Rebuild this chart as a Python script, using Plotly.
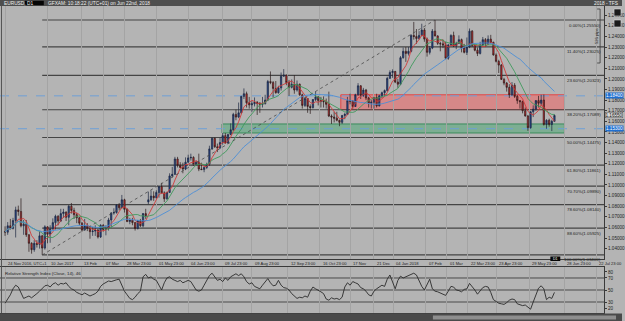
import numpy as np
import pandas as pd
import plotly.graph_objects as go

# ---------------- data ----------------
dates = [
    "2016-11-24", "2016-11-28", "2016-11-30", "2016-12-02", "2016-12-05", "2016-12-07", "2016-12-08", "2016-12-12", "2016-12-14", "2016-12-16",
    "2016-12-20", "2016-12-22", "2016-12-27", "2016-12-29", "2017-01-03", "2017-01-05", "2017-01-09", "2017-01-11", "2017-01-13", "2017-01-17",
    "2017-01-19", "2017-01-23", "2017-01-25", "2017-01-27", "2017-01-31", "2017-02-02", "2017-02-06", "2017-02-08", "2017-02-10", "2017-02-14",
    "2017-02-16", "2017-02-20", "2017-02-22", "2017-02-24", "2017-02-28", "2017-03-02", "2017-03-03", "2017-03-07", "2017-03-09", "2017-03-13",
    "2017-03-15", "2017-03-17", "2017-03-21", "2017-03-23", "2017-03-27", "2017-03-29", "2017-03-31", "2017-04-04", "2017-04-06", "2017-04-10",
    "2017-04-12", "2017-04-14", "2017-04-18", "2017-04-20", "2017-04-24", "2017-04-26", "2017-04-28", "2017-05-02", "2017-05-04", "2017-05-08",
    "2017-05-10", "2017-05-12", "2017-05-16", "2017-05-18", "2017-05-22", "2017-05-24", "2017-05-26", "2017-05-30", "2017-06-01", "2017-06-05",
    "2017-06-07", "2017-06-09", "2017-06-13", "2017-06-15", "2017-06-19", "2017-06-21", "2017-06-23", "2017-06-27", "2017-06-29", "2017-07-03",
    "2017-07-05", "2017-07-07", "2017-07-11", "2017-07-13", "2017-07-17", "2017-07-19", "2017-07-21", "2017-07-25", "2017-07-27", "2017-07-31",
    "2017-08-02", "2017-08-04", "2017-08-08", "2017-08-10", "2017-08-14", "2017-08-16", "2017-08-18", "2017-08-22", "2017-08-24", "2017-08-28",
    "2017-08-29", "2017-08-31", "2017-09-01", "2017-09-05", "2017-09-07", "2017-09-08", "2017-09-12", "2017-09-14", "2017-09-18", "2017-09-20",
    "2017-09-22", "2017-09-25", "2017-09-27", "2017-09-29", "2017-10-03", "2017-10-06", "2017-10-10", "2017-10-12", "2017-10-16", "2017-10-18",
    "2017-10-20", "2017-10-24", "2017-10-26", "2017-10-30", "2017-11-01", "2017-11-03", "2017-11-07", "2017-11-09", "2017-11-13", "2017-11-15",
    "2017-11-17", "2017-11-21", "2017-11-23", "2017-11-27", "2017-11-29", "2017-12-01", "2017-12-05", "2017-12-07", "2017-12-11", "2017-12-13",
    "2017-12-15", "2017-12-19", "2017-12-21", "2017-12-27", "2017-12-29", "2018-01-02", "2018-01-04", "2018-01-08", "2018-01-10", "2018-01-12",
    "2018-01-16", "2018-01-18", "2018-01-22", "2018-01-24", "2018-01-25", "2018-01-29", "2018-01-31", "2018-02-02", "2018-02-06", "2018-02-08",
    "2018-02-12", "2018-02-14", "2018-02-16", "2018-02-20", "2018-02-22", "2018-02-26", "2018-02-28", "2018-03-02", "2018-03-06", "2018-03-08",
    "2018-03-12", "2018-03-14", "2018-03-16", "2018-03-20", "2018-03-22", "2018-03-26", "2018-03-28", "2018-04-03", "2018-04-05", "2018-04-09",
    "2018-04-11", "2018-04-13", "2018-04-17", "2018-04-19", "2018-04-23", "2018-04-25", "2018-04-27", "2018-05-01", "2018-05-03", "2018-05-07",
    "2018-05-09", "2018-05-11", "2018-05-15", "2018-05-17", "2018-05-21", "2018-05-23", "2018-05-25", "2018-05-29", "2018-05-31", "2018-06-04",
    "2018-06-06", "2018-06-08", "2018-06-12", "2018-06-14", "2018-06-18", "2018-06-20", "2018-06-21", "2018-06-22",
]

opens = [
    1.0560, 1.0555, 1.0615, 1.0590, 1.0665, 1.0765, 1.0750, 1.0615, 1.0630, 1.0530,
    1.0450, 1.0390, 1.0450, 1.0440, 1.0520, 1.0405, 1.0605, 1.0535, 1.0585, 1.0645,
    1.0705, 1.0660, 1.0730, 1.0745, 1.0695, 1.0800, 1.0760, 1.0720, 1.0690, 1.0640,
    1.0575, 1.0615, 1.0590, 1.0560, 1.0565, 1.0575, 1.0510, 1.0620, 1.0580, 1.0590,
    1.0670, 1.0735, 1.0740, 1.0810, 1.0785, 1.0860, 1.0770, 1.0655, 1.0670, 1.0645,
    1.0590, 1.0665, 1.0615, 1.0730, 1.0840, 1.0860, 1.0895, 1.0880, 1.0930, 1.0985,
    1.0925, 1.0870, 1.0930, 1.1085, 1.1100, 1.1245, 1.1185, 1.1165, 1.1150, 1.1215,
    1.1255, 1.1260, 1.1195, 1.1215, 1.1150, 1.1145, 1.1165, 1.1195, 1.1340, 1.1440,
    1.1360, 1.1350, 1.1400, 1.1465, 1.1395, 1.1475, 1.1520, 1.1665, 1.1640, 1.1680,
    1.1835, 1.1860, 1.1775, 1.1755, 1.1765, 1.1780, 1.1770, 1.1760, 1.1765, 1.1800,
    1.1975, 1.1965, 1.1910, 1.1870, 1.1915, 1.2025, 1.2035, 1.1965, 1.1920, 1.1950,
    1.1895, 1.1950, 1.1850, 1.1750, 1.1815, 1.1740, 1.1730, 1.1805, 1.1830, 1.1795,
    1.1790, 1.1785, 1.1760, 1.1650, 1.1640, 1.1630, 1.1610, 1.1590, 1.1655, 1.1665,
    1.1795, 1.1790, 1.1740, 1.1850, 1.1935, 1.1845, 1.1895, 1.1820, 1.1770, 1.1780,
    1.1825, 1.1745, 1.1840, 1.1870, 1.1890, 1.2005, 1.2060, 1.2070, 1.1970, 1.1950,
    1.2200, 1.2260, 1.2240, 1.2260, 1.2410, 1.2400, 1.2380, 1.2410, 1.2460, 1.2375,
    1.2250, 1.2290, 1.2450, 1.2405, 1.2335, 1.2330, 1.2320, 1.2195, 1.2320, 1.2410,
    1.2310, 1.2335, 1.2370, 1.2290, 1.2250, 1.2300, 1.2450, 1.2315, 1.2270, 1.2240,
    1.2320, 1.2370, 1.2330, 1.2375, 1.2345, 1.2225, 1.2165, 1.2130, 1.1995, 1.1960,
    1.1920, 1.1850, 1.1940, 1.1835, 1.1795, 1.1785, 1.1700, 1.1650, 1.1540, 1.1690,
    1.1715, 1.1795, 1.1770, 1.1800, 1.1570, 1.1610, 1.1570, 1.1600,
]

highs = [
    1.0610, 1.0650, 1.0680, 1.0690, 1.0795, 1.0805, 1.0874, 1.0670, 1.0670, 1.0535,
    1.0460, 1.0480, 1.0480, 1.0560, 1.0530, 1.0620, 1.0610, 1.0620, 1.0685, 1.0720,
    1.0715, 1.0775, 1.0775, 1.0750, 1.0810, 1.0830, 1.0785, 1.0740, 1.0700, 1.0650,
    1.0680, 1.0640, 1.0600, 1.0600, 1.0620, 1.0590, 1.0630, 1.0630, 1.0620, 1.0690,
    1.0745, 1.0780, 1.0820, 1.0830, 1.0906, 1.0870, 1.0780, 1.0690, 1.0690, 1.0650,
    1.0670, 1.0680, 1.0735, 1.0775, 1.0937, 1.0950, 1.0940, 1.0950, 1.0990, 1.1020,
    1.0940, 1.0935, 1.1110, 1.1170, 1.1265, 1.1265, 1.1215, 1.1210, 1.1260, 1.1285,
    1.1295, 1.1270, 1.1230, 1.1295, 1.1210, 1.1170, 1.1210, 1.1370, 1.1445, 1.1445,
    1.1390, 1.1445, 1.1490, 1.1490, 1.1480, 1.1580, 1.1680, 1.1710, 1.1777, 1.1840,
    1.1910, 1.1880, 1.1830, 1.1790, 1.1825, 1.1790, 1.1780, 1.1830, 1.1850, 1.1990,
    1.2070, 1.1980, 1.1980, 1.1935, 1.2060, 1.2092, 1.2040, 1.1990, 1.1995, 1.2035,
    1.1985, 1.1955, 1.1860, 1.1830, 1.1820, 1.1760, 1.1810, 1.1880, 1.1840, 1.1830,
    1.1835, 1.1815, 1.1880, 1.1665, 1.1690, 1.1690, 1.1615, 1.1660, 1.1680, 1.1830,
    1.1860, 1.1800, 1.1860, 1.1960, 1.1940, 1.1915, 1.1905, 1.1830, 1.1800, 1.1830,
    1.1860, 1.1850, 1.1880, 1.1900, 1.2020, 1.2080, 1.2090, 1.2075, 1.2000, 1.2215,
    1.2295, 1.2300, 1.2300, 1.2420, 1.2537, 1.2470, 1.2450, 1.2520, 1.2480, 1.2390,
    1.2310, 1.2470, 1.2555, 1.2410, 1.2350, 1.2370, 1.2350, 1.2330, 1.2420, 1.2445,
    1.2350, 1.2410, 1.2380, 1.2330, 1.2390, 1.2475, 1.2460, 1.2330, 1.2295, 1.2350,
    1.2395, 1.2385, 1.2410, 1.2415, 1.2350, 1.2240, 1.2180, 1.2140, 1.2010, 1.1970,
    1.1950, 1.1970, 1.1960, 1.1850, 1.1800, 1.1795, 1.1730, 1.1660, 1.1695, 1.1750,
    1.1800, 1.1840, 1.1850, 1.1852, 1.1620, 1.1625, 1.1615, 1.1665,
]

lows = [
    1.0520, 1.0530, 1.0580, 1.0580, 1.0505, 1.0710, 1.0600, 1.0530, 1.0510, 1.0370,
    1.0352, 1.0370, 1.0410, 1.0400, 1.0340, 1.0390, 1.0450, 1.0455, 1.0580, 1.0580,
    1.0620, 1.0650, 1.0690, 1.0660, 1.0620, 1.0730, 1.0680, 1.0640, 1.0620, 1.0560,
    1.0570, 1.0565, 1.0493, 1.0520, 1.0520, 1.0495, 1.0500, 1.0560, 1.0525, 1.0570,
    1.0600, 1.0720, 1.0730, 1.0760, 1.0780, 1.0740, 1.0650, 1.0630, 1.0620, 1.0570,
    1.0580, 1.0605, 1.0600, 1.0680, 1.0820, 1.0850, 1.0850, 1.0870, 1.0880, 1.0920,
    1.0840, 1.0860, 1.0925, 1.1070, 1.1095, 1.1165, 1.1160, 1.1110, 1.1140, 1.1210,
    1.1230, 1.1180, 1.1180, 1.1130, 1.1140, 1.1120, 1.1150, 1.1180, 1.1330, 1.1350,
    1.1310, 1.1340, 1.1380, 1.1390, 1.1390, 1.1470, 1.1510, 1.1610, 1.1630, 1.1670,
    1.1810, 1.1730, 1.1720, 1.1690, 1.1740, 1.1660, 1.1680, 1.1730, 1.1760, 1.1790,
    1.1950, 1.1825, 1.1860, 1.1860, 1.1890, 1.2020, 1.1940, 1.1840, 1.1910, 1.1860,
    1.1880, 1.1840, 1.1720, 1.1735, 1.1680, 1.1670, 1.1720, 1.1790, 1.1750, 1.1730,
    1.1730, 1.1720, 1.1640, 1.1575, 1.1590, 1.1600, 1.1554, 1.1575, 1.1620, 1.1660,
    1.1760, 1.1720, 1.1735, 1.1840, 1.1810, 1.1830, 1.1800, 1.1730, 1.1720, 1.1720,
    1.1730, 1.1740, 1.1820, 1.1840, 1.1880, 1.2000, 1.2010, 1.1960, 1.1915, 1.1940,
    1.2190, 1.2160, 1.2220, 1.2250, 1.2370, 1.2330, 1.2370, 1.2400, 1.2350, 1.2210,
    1.2230, 1.2280, 1.2400, 1.2320, 1.2260, 1.2290, 1.2185, 1.2180, 1.2310, 1.2300,
    1.2280, 1.2330, 1.2250, 1.2240, 1.2225, 1.2290, 1.2300, 1.2260, 1.2215, 1.2230,
    1.2310, 1.2300, 1.2320, 1.2330, 1.2220, 1.2155, 1.2055, 1.1990, 1.1940, 1.1880,
    1.1820, 1.1840, 1.1820, 1.1765, 1.1720, 1.1675, 1.1645, 1.1510, 1.1530, 1.1640,
    1.1700, 1.1730, 1.1750, 1.1560, 1.1530, 1.1550, 1.1508, 1.1595,
]

closes = [
    1.0555, 1.0615, 1.0590, 1.0665, 1.0765, 1.0750, 1.0615, 1.0630, 1.0530, 1.0450,
    1.0390, 1.0450, 1.0440, 1.0520, 1.0405, 1.0605, 1.0535, 1.0585, 1.0645, 1.0705,
    1.0660, 1.0730, 1.0745, 1.0695, 1.0800, 1.0760, 1.0720, 1.0690, 1.0640, 1.0575,
    1.0615, 1.0590, 1.0560, 1.0565, 1.0575, 1.0510, 1.0620, 1.0580, 1.0590, 1.0670,
    1.0735, 1.0740, 1.0810, 1.0785, 1.0860, 1.0770, 1.0655, 1.0670, 1.0645, 1.0590,
    1.0665, 1.0615, 1.0730, 1.0710, 1.0860, 1.0895, 1.0880, 1.0930, 1.0985, 1.0925,
    1.0870, 1.0930, 1.1085, 1.1100, 1.1245, 1.1185, 1.1165, 1.1150, 1.1215, 1.1255,
    1.1260, 1.1195, 1.1215, 1.1150, 1.1145, 1.1165, 1.1195, 1.1340, 1.1440, 1.1360,
    1.1350, 1.1400, 1.1465, 1.1395, 1.1475, 1.1520, 1.1665, 1.1640, 1.1680, 1.1835,
    1.1860, 1.1775, 1.1755, 1.1765, 1.1780, 1.1770, 1.1760, 1.1765, 1.1800, 1.1975,
    1.1965, 1.1910, 1.1870, 1.1915, 1.2025, 1.2035, 1.1965, 1.1920, 1.1950, 1.1895,
    1.1950, 1.1850, 1.1750, 1.1815, 1.1740, 1.1730, 1.1805, 1.1830, 1.1795, 1.1790,
    1.1785, 1.1760, 1.1650, 1.1640, 1.1630, 1.1610, 1.1590, 1.1655, 1.1665, 1.1795,
    1.1790, 1.1740, 1.1850, 1.1935, 1.1845, 1.1895, 1.1820, 1.1770, 1.1780, 1.1825,
    1.1745, 1.1840, 1.1870, 1.1890, 1.2005, 1.2060, 1.2070, 1.1970, 1.1950, 1.2200,
    1.2260, 1.2240, 1.2260, 1.2410, 1.2400, 1.2380, 1.2410, 1.2460, 1.2375, 1.2250,
    1.2290, 1.2450, 1.2405, 1.2335, 1.2330, 1.2320, 1.2195, 1.2320, 1.2410, 1.2310,
    1.2335, 1.2370, 1.2290, 1.2250, 1.2300, 1.2450, 1.2315, 1.2270, 1.2240, 1.2320,
    1.2370, 1.2330, 1.2375, 1.2345, 1.2225, 1.2165, 1.2130, 1.1995, 1.1960, 1.1920,
    1.1850, 1.1940, 1.1835, 1.1795, 1.1785, 1.1700, 1.1650, 1.1540, 1.1690, 1.1715,
    1.1795, 1.1770, 1.1800, 1.1570, 1.1610, 1.1570, 1.1600, 1.1655,
]

rsi_values = [
    28, 35, 42, 52, 58, 55, 45, 36, 38, 40,
    37, 40, 44, 48, 52, 57, 58, 55, 60, 62,
    58, 61, 60, 62, 56, 52, 50, 46, 44, 42,
    45, 43, 40, 42, 44, 48, 56, 60, 62, 65,
    64, 66, 67, 68, 58, 48, 42, 36, 34, 38,
    44, 48, 72, 76, 70, 72, 68, 66, 58, 50,
    62, 70, 72, 68, 66, 64, 66, 62, 64, 66,
    64, 56, 50, 48, 50, 58, 66, 74, 78, 72,
    66, 68, 64, 70, 66, 72, 75, 77, 74, 77,
    72, 64, 60, 62, 56, 54, 52, 58, 64, 69,
    62, 57, 58, 66, 58, 54, 53, 50, 44, 40,
    36, 38, 37, 40, 38, 48, 55, 52, 50, 47,
    44, 35, 33, 37, 35, 36, 34, 38, 55, 62,
    58, 64, 62, 60, 54, 52, 48, 42, 40, 48,
    52, 55, 58, 56, 68, 75, 62, 52, 66, 73,
    70, 72, 74, 76, 78, 75, 66, 56, 50, 60,
    68, 52, 48, 47, 45, 42, 41, 48, 56, 55,
    50, 49, 47, 51, 52, 61, 56, 50, 43, 48,
    54, 56, 55, 46, 34, 31, 28, 27, 26, 29,
    33, 35, 34, 27, 26, 24, 25, 22, 18, 30,
    42, 53, 57, 52, 34, 38, 36, 46,
]

tick_dates = ["2016-11-24", "2017-01-09", "2017-02-13", "2017-03-07", "2017-03-29", "2017-05-02",
              "2017-06-05", "2017-07-10", "2017-08-10", "2017-09-13", "2017-10-17", "2017-11-17",
              "2017-12-13", "2018-01-05", "2018-02-07", "2018-03-01", "2018-03-23", "2018-04-25",
              "2018-05-30", "2018-06-29", "2018-07-23"]
tick_labels = ["24 Nov 2016, UTC+1", "10 Jan 2017", "13 Feb", "07 Mar", "28 Mar 23:00", "01 May 23:00",
               "04 Jun 23:00", "09 Jul 23:00", "09 Aug 23:00", "12 Sep 23:00", "16 Oct 23:00", "17 Nov",
               "21 Dec", "04 Jan 2018", "07 Feb", "01 Mar", "22 Mar 23:00", "23 Apr 23:00",
               "29 May 23:00", "28 Jun 23:00", "22 Jul 23:00"]

fib_ratios = [0.0, 11.4, 23.6, 38.2, 50.0, 61.8, 70.7, 78.6, 88.6, 100.0]
fib_high, fib_low = 1.2555, 1.0340
fib_high_date, fib_low_date = "2018-02-16", "2017-01-03"

red_zone = (1.1710, 1.1850)
red_zone_start = "2017-11-08"
green_zone = (1.1490, 1.1575)
green_zone_start = "2017-07-10"
zone_end = "2018-06-29"
blue_levels = [1.1840, 1.1530]
current_price = 1.1655

ma_periods = [5, 11, 28]
ma_colors = ["#d03a3a", "#3f9a5c", "#4d8fd6"]

rsi_levels = [70, 50, 30]
rsi_ticks = [80, 70, 50, 30, 20]

# ---------------- helpers ----------------
W, H = 625, 321
def py(p):
    return 1 - p / H
def px(p):
    return p / W

N = len(closes)
idx = np.arange(N)
bar_dt = pd.to_datetime(dates)
bar_ord = np.array([d.toordinal() for d in bar_dt])

def pos(d):
    t = pd.Timestamp(d)
    if t <= bar_dt[-1]:
        return float(np.interp(t.toordinal(), bar_ord, idx))
    return (N - 1) + np.busday_count(bar_dt[-1].date(), t.date()) * 0.75

tick_pos = [pos(d) for d in tick_dates]
X_RANGE = [-1.9, 225.7]
Y_RANGE = [1.0302, 1.2687]
R_RANGE = [11.7, 88.3]

BG = "#b4b4b4"
DARK = "#3a3a3a"
FONT = "Liberation Sans"

fig = go.Figure()

# moving averages
cs = pd.Series(closes)
for per, col in zip(ma_periods, ma_colors):
    fig.add_trace(go.Scatter(x=idx, y=cs.rolling(per, min_periods=1).mean(), mode="lines",
                             line=dict(color=col, width=0.9), hoverinfo="skip",
                             xaxis="x", yaxis="y"))

fig.add_trace(go.Candlestick(
    x=idx, open=opens, high=highs, low=lows, close=closes,
    increasing=dict(line=dict(color="#1c2640", width=0.7), fillcolor="#23438a"),
    decreasing=dict(line=dict(color="#2a1a1a", width=0.7), fillcolor="#d3272b"),
    whiskerwidth=0, xaxis="x", yaxis="y"))

fig.add_trace(go.Scatter(x=idx, y=rsi_values, mode="lines",
                         line=dict(color="#2a2a2a", width=0.9), hoverinfo="skip",
                         xaxis="x2", yaxis="y2"))

shapes = []
# zones
for (lo, hi), start, fill, edge in [(red_zone, red_zone_start, "rgba(236,110,110,0.62)", "#e04848"),
                                    (green_zone, green_zone_start, "rgba(80,170,120,0.55)", "#3b8c5c")]:
    shapes.append(dict(type="rect", xref="x", yref="y", x0=pos(start), x1=pos(zone_end),
                       y0=lo, y1=hi, fillcolor=fill, line=dict(color=edge, width=1), layer="below"))
# blue dashed levels
for lv in blue_levels:
    shapes.append(dict(type="line", xref="x", yref="y", x0=X_RANGE[0], x1=X_RANGE[1], y0=lv, y1=lv,
                       line=dict(color="#6e9fd6", width=1, dash="dash"), layer="below"))
# fibonacci levels
fib_x0 = pos(fib_low_date)
for r in fib_ratios:
    lv = fib_high - r / 100 * (fib_high - fib_low)
    shapes.append(dict(type="line", xref="x", yref="y", x0=fib_x0, x1=X_RANGE[1], y0=lv, y1=lv,
                       line=dict(color="#454545", width=1.2), layer="below"))
shapes.append(dict(type="line", xref="x", yref="y", x0=fib_x0, y0=fib_low, x1=pos(fib_high_date), y1=fib_high,
                   line=dict(color="#4a4a4a", width=0.8, dash="dot")))
# rsi levels
for lv in rsi_levels:
    shapes.append(dict(type="line", xref="x2", yref="y2", x0=X_RANGE[0], x1=X_RANGE[1], y0=lv, y1=lv,
                       line=dict(color="#4a4a4a", width=1), layer="below"))
# top bar and bottom scroll bar
shapes.append(dict(type="rect", xref="paper", yref="paper", x0=0, x1=1, y0=py(6), y1=1,
                   fillcolor="#4e4e4e", line=dict(width=0)))
shapes.append(dict(type="rect", xref="paper", yref="paper", x0=px(25), x1=px(44), y0=py(5.2), y1=py(0.8),
                   fillcolor="#050505", line=dict(width=0)))
shapes.append(dict(type="rect", xref="paper", yref="paper", x0=0, x1=1, y0=0, y1=py(313.5),
                   fillcolor="#4a4a4a", line=dict(width=0)))
shapes.append(dict(type="rect", xref="paper", yref="paper", x0=px(435), x1=px(619), y0=py(319.5), y1=py(315.5),
                   fillcolor="#8e8e8e", line=dict(width=0)))
# pip ruler bracket
shapes.append(dict(type="path", xref="paper", yref="paper",
                   path=f"M {px(600)},{py(9)} L {px(603)},{py(9)} L {px(603)},{py(63)} L {px(600)},{py(63)}",
                   line=dict(color="#3a3a3a", width=0.8)))
# icons
for top in (9, 20):
    shapes.append(dict(type="rect", xref="paper", yref="paper", x0=px(617), x1=px(624), y0=py(top + 7), y1=py(top),
                       fillcolor="#1a1a1a", line=dict(color="#dddddd", width=0.6)))
# black time marker near bottom of price pane
shapes.append(dict(type="rect", xref="paper", yref="paper", x0=px(553), x1=px(563), y0=py(261), y1=py(256.5),
                   fillcolor="#050505", line=dict(width=0)))
# left border
shapes.append(dict(type="line", xref="paper", yref="paper", x0=px(1.5), x1=px(1.5), y0=py(313), y1=py(6),
                   line=dict(color="#555555", width=1)))

ann = []
small = dict(family=FONT, size=4.4, color="#1e1e1e")
for r in fib_ratios:
    lv = fib_high - r / 100 * (fib_high - fib_low)
    ann.append(dict(xref="paper", yref="y", x=px(606), y=lv, xanchor="right", yanchor="top",
                    text=f"{r:.2f}%({lv:.5f})", showarrow=False, font=small, yshift=-0.5))
for t, lab in zip(tick_pos, tick_labels):
    ann.append(dict(xref="x", yref="paper", x=t, y=py(263.2), xanchor="left", yanchor="middle",
                    text=lab, showarrow=False, font=dict(family=FONT, size=4.1, color="#1e1e1e"), xshift=1))
for lv in blue_levels:
    ann.append(dict(xref="paper", yref="y", x=px(608), y=lv, xanchor="left", yanchor="middle",
                    text=f"{lv:.5f}", showarrow=False, bgcolor="#1f6fd0",
                    font=dict(family=FONT, size=4.6, color="#ffffff"), borderpad=0))
ann.append(dict(xref="paper", yref="y", x=px(608), y=current_price, xanchor="left", yanchor="middle",
                text=f"{current_price:.5f}", showarrow=False, bgcolor="#d6d6d6", bordercolor="#555555",
                borderwidth=0.5, borderpad=0, font=dict(family=FONT, size=4.6, color="#111111")))
ann.append(dict(xref="paper", yref="paper", x=px(2), y=py(3), xanchor="left", yanchor="middle",
                text="EURUSD, D1", showarrow=False, font=dict(family=FONT, size=4.8, color="#f0f0f0")))
ann.append(dict(xref="paper", yref="paper", x=px(46), y=py(3), xanchor="left", yanchor="middle",
                text="GFXAM: 10:18:22 (UTC+01) on Jun 22nd, 2018", showarrow=False,
                font=dict(family=FONT, size=4.8, color="#f0f0f0")))
ann.append(dict(xref="paper", yref="paper", x=px(623), y=py(3), xanchor="right", yanchor="middle",
                text="2018 - TFS", showarrow=False, font=dict(family=FONT, size=4.8, color="#f0f0f0")))
ann.append(dict(xref="paper", yref="paper", x=px(599), y=py(36), xanchor="center", yanchor="middle",
                text="526 pips", textangle=-90, showarrow=False, font=dict(family=FONT, size=4.2, color="#222222")))
ann.append(dict(xref="paper", yref="paper", x=px(558), y=py(258.8), xanchor="center", yanchor="middle",
                text="D1", showarrow=False, font=dict(family=FONT, size=3.6, color="#ffffff")))
ann.append(dict(xref="paper", yref="paper", x=px(3), y=py(268.5), xanchor="left", yanchor="top",
                text="Relative Strength Index (Close, 14), 46", showarrow=False, font=small))

fig.update_layout(
    width=W, height=H, autosize=False,
    margin=dict(l=0, r=0, t=0, b=0, pad=0),
    paper_bgcolor=BG, plot_bgcolor=BG,
    showlegend=False, shapes=shapes, annotations=ann,
    font=dict(family=FONT, size=5, color="#1e1e1e"),
    xaxis=dict(domain=[0, px(607)], range=X_RANGE, anchor="y", rangeslider=dict(visible=False),
               tickvals=tick_pos, showticklabels=False, showgrid=True, gridcolor="#a4a4a4", gridwidth=1,
               showline=True, linecolor=DARK, linewidth=1, mirror=False, zeroline=False, ticks=""),
    yaxis=dict(domain=[py(259), py(6)], range=Y_RANGE, side="right", anchor="x",
               tickvals=[round(v, 2) for v in np.arange(1.04, 1.265, 0.01)],
               tickformat=".5f", tickfont=dict(family=FONT, size=4.6, color="#1e1e1e"),
               showgrid=False, zeroline=False, showline=True, linecolor=DARK, linewidth=1,
               ticks="outside", ticklen=2, tickcolor=DARK),
    xaxis2=dict(domain=[0, px(607)], range=X_RANGE, anchor="y2", matches="x",
                tickvals=tick_pos, showticklabels=False, showgrid=True, gridcolor="#a4a4a4", gridwidth=1,
                showline=True, linecolor=DARK, linewidth=1, mirror=True, zeroline=False, ticks=""),
    yaxis2=dict(domain=[py(313), py(267)], range=R_RANGE, side="right", anchor="x2",
                tickvals=rsi_ticks, tickfont=dict(family=FONT, size=4.6, color="#1e1e1e"),
                showgrid=False, zeroline=False, showline=True, linecolor=DARK, linewidth=1,
                ticks="outside", ticklen=2, tickcolor=DARK),
)

fig.write_html("out.html")
